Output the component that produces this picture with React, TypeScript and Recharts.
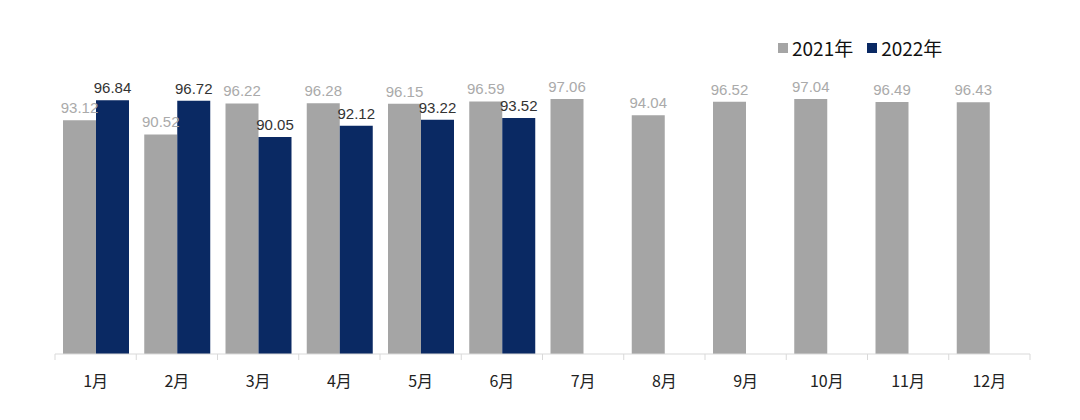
import { Bar, BarChart, LabelList, XAxis, YAxis } from "recharts";

const months = ["1月", "2月", "3月", "4月", "5月", "6月", "7月", "8月", "9月", "10月", "11月", "12月"];
const values2021 = [93.12, 90.52, 96.22, 96.28, 96.15, 96.59, 97.06, 94.04, 96.52, 97.04, 96.49, 96.43];
const values2022: (number | null)[] = [96.84, 96.72, 90.05, 92.12, 93.22, 93.52, null, null, null, null, null, null];

const GRAY = "#a5a5a5";
const NAVY = "#0a2963";
const W = 1064;
const H = 400;
const M = { top: 75, right: 42, left: 47, bottom: 24 };
const BAND = (W - M.left - M.right) / months.length;

const data = months.map((m, i) => ({ month: m, y2021: values2021[i], y2022: values2022[i] }));

function MonthTick(props: any) {
  const { x, y, payload, index } = props;
  const half = BAND / 2;
  return (
    <g>
      <line x1={x - half} x2={x - half} y1={y} y2={y + 6} stroke="#d9d9d9" />
      {index === months.length - 1 && <line x1={x + half} x2={x + half} y1={y} y2={y + 6} stroke="#d9d9d9" />}
      <text x={x} y={y + 33} textAnchor="middle" fontSize={16} fill="#222" fontFamily="'Noto Sans CJK SC', sans-serif">
        {payload.value}
      </text>
    </g>
  );
}

function LegendBox() {
  const items = [
    { name: "2021年", color: GRAY },
    { name: "2022年", color: NAVY },
  ];
  return (
    <div
      style={{
        position: "absolute",
        top: 26,
        left: 770,
        display: "flex",
        gap: 14,
        fontFamily: "'Noto Sans CJK SC', sans-serif",
        fontSize: 19,
        color: "#111",
      }}
    >
      {items.map((it) => (
        <div key={it.name} style={{ display: "flex", alignItems: "center", gap: 4 }}>
          <span style={{ width: 10, height: 10, background: it.color, display: "inline-block" }} />
          <span>{it.name}</span>
        </div>
      ))}
    </div>
  );
}

export default function App() {
  return (
    <div style={{ position: "relative", width: W, height: H }}>
      <BarChart width={W} height={H} data={data} margin={M} barCategoryGap={8} barGap={0}>
        <XAxis
          dataKey="month"
          axisLine={{ stroke: "#d9d9d9" }}
          tickLine={false}
          tickSize={0}
          tickMargin={0}
          height={30}
          interval={0}
          tick={<MonthTick />}
        />
        <YAxis hide domain={[50, 100]} />
        <Bar dataKey="y2021" fill={GRAY} isAnimationActive={false}>
          <LabelList
            dataKey="y2021"
            position="top"
            offset={7}
            fill="#aaaaaa"
            fontSize={15}
            fontFamily="'Liberation Sans', Arial, sans-serif"
          />
        </Bar>
        <Bar dataKey="y2022" fill={NAVY} isAnimationActive={false}>
          <LabelList
            dataKey="y2022"
            position="top"
            offset={7}
            fill="#333333"
            fontSize={15}
            fontFamily="'Liberation Sans', Arial, sans-serif"
          />
        </Bar>
      </BarChart>
      <LegendBox />
    </div>
  );
}
